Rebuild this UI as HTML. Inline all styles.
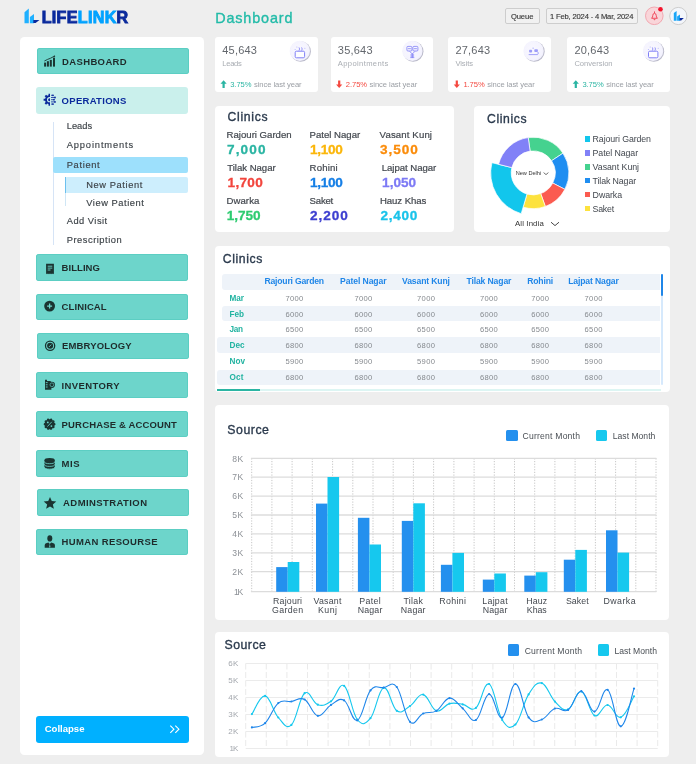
<!DOCTYPE html>
<html lang="en"><head><meta charset="utf-8"><title>Dashboard</title>
<style>
html,body{margin:0;padding:0}
body{width:696px;height:764px;position:relative;overflow:hidden;background:#eeeeee;font-family:"Liberation Sans",sans-serif}
.t{position:absolute;line-height:1;white-space:nowrap}
.a{position:absolute}
.card{position:absolute;background:#fff;border-radius:4px}
.btn{position:absolute;background:#6dd5cb;border-radius:3px;box-shadow:inset 0 0 0 0.8px rgba(84,202,190,0.85)}
svg{position:absolute;overflow:visible}
</style></head><body>
<svg style="left:0;top:0" width="140" height="30" viewBox="0 0 140 30">
<polygon points="24.5,12.2 28.8,8.6 28.8,23.3 24.5,23.3" fill="#1fb0ff"/>
<polygon points="29.9,16.9 34,14 34,23.3 29.9,23.3" fill="#1fb0ff"/>
<polygon points="33.3,20.1 39.5,20.1 35.6,23.1 33.3,23.1" fill="#0b2a9c"/>
</svg>
<span class="t" style="left:41.70px;top:9.00px;font-size:16.10px;color:#0b2a9c;font-weight:700;letter-spacing:0.307px;-webkit-text-stroke:0.9px currentColor;">LIFE<span style="color:#00a2ff">LINK</span>R</span>
<span class="t" style="left:215.20px;top:11.00px;font-size:14.40px;color:#22bba8;font-weight:400;letter-spacing:0.862px;-webkit-text-stroke:0.35px currentColor;">Dashboard</span>
<div class="a" style="left:504.5px;top:8.2px;width:35.3px;height:15.6px;border:1px solid #cdcdcd;border-radius:2px;background:#f1f1f1;box-sizing:border-box"></div>
<span class="t" style="left:510.90px;top:13.00px;font-size:7.60px;color:#3a3a3a;font-weight:400;letter-spacing:-0.078px;-webkit-text-stroke:0.15px currentColor;">Queue</span>
<div class="a" style="left:546.2px;top:8.2px;width:91.5px;height:15.6px;border:1px solid #cdcdcd;border-radius:2px;background:#f1f1f1;box-sizing:border-box"></div>
<span class="t" style="left:550.00px;top:13.00px;font-size:7.60px;color:#3a3a3a;font-weight:400;letter-spacing:-0.166px;-webkit-text-stroke:0.15px currentColor;">1 Feb, 2024 - 4 Mar, 2024</span>
<svg style="left:640px;top:2px" width="52" height="28" viewBox="640 2 52 28">
<circle cx="654.3" cy="15.8" r="8.8" fill="#f9d5d9" stroke="#f0a0aa" stroke-width="0.9"/>
<path d="M651.9 18 q0.9 -0.9 0.9 -2.6 a1.7 2 0 0 1 3.4 0 q0 1.7 0.9 2.6z M653.7 19.3 a0.9 0.7 0 0 0 1.6 0 M654.5 12.6 v-0.8" fill="none" stroke="#ee3146" stroke-width="0.85" stroke-linejoin="round" stroke-linecap="round"/>
<circle cx="660.5" cy="9.3" r="2.3" fill="#f3132c"/>
<circle cx="678.3" cy="16" r="8.6" fill="#f3f6fb" stroke="#c8c8c8" stroke-width="0.9"/>
<polygon points="673.8,12.9 676.6,11 676.6,20.7 673.8,20.7" fill="#1aa6f7"/>
<polygon points="677.1,16.4 680,14.5 680,20.7 677.1,20.7" fill="#1aa6f7"/>
<polygon points="679.6,18 683.8,18 681.2,20.6 679.6,20.6" fill="#0b2a9c"/>
</svg>
<div class="card" style="left:20.3px;top:37px;width:183.9px;height:718.4px;border-radius:4.5px"></div>
<div class="btn" style="left:36.7px;top:48.0px;width:152.2px;height:26.4px;"></div>
<span class="t" style="left:62.00px;top:57.00px;font-size:9.50px;color:#1e2b2b;font-weight:700;letter-spacing:0.369px;">DASHBOARD</span>
<div class="btn" style="left:36.1px;top:87.2px;width:152.2px;height:26.4px;background:#caf0ec;box-shadow:none;"></div>
<span class="t" style="left:61.60px;top:96.00px;font-size:9.50px;color:#0b2a9c;font-weight:700;letter-spacing:0.288px;">OPERATIONS</span>
<div class="btn" style="left:36.1px;top:254.3px;width:152.2px;height:26.4px;"></div>
<span class="t" style="left:61.60px;top:263.00px;font-size:9.50px;color:#1e2b2b;font-weight:700;letter-spacing:0.050px;">BILLING</span>
<div class="btn" style="left:36.1px;top:293.5px;width:152.2px;height:26.4px;"></div>
<span class="t" style="left:61.60px;top:302.00px;font-size:9.50px;color:#1e2b2b;font-weight:700;letter-spacing:0.096px;">CLINICAL</span>
<div class="btn" style="left:36.9px;top:332.8px;width:152.2px;height:26.4px;"></div>
<span class="t" style="left:61.90px;top:341.00px;font-size:9.50px;color:#1e2b2b;font-weight:700;letter-spacing:0.159px;">EMBRYOLOGY</span>
<div class="btn" style="left:36.1px;top:371.9px;width:152.2px;height:26.4px;"></div>
<span class="t" style="left:61.60px;top:381.00px;font-size:9.50px;color:#1e2b2b;font-weight:700;letter-spacing:0.387px;">INVENTORY</span>
<div class="btn" style="left:36.1px;top:411.1px;width:152.2px;height:26.4px;"></div>
<span class="t" style="left:61.60px;top:420.00px;font-size:9.50px;color:#1e2b2b;font-weight:700;letter-spacing:0.158px;">PURCHASE & ACCOUNT</span>
<div class="btn" style="left:36.1px;top:450.3px;width:152.2px;height:26.4px;"></div>
<span class="t" style="left:61.60px;top:459.00px;font-size:9.50px;color:#1e2b2b;font-weight:700;letter-spacing:0.555px;">MIS</span>
<div class="btn" style="left:36.9px;top:489.4px;width:152.2px;height:26.4px;"></div>
<span class="t" style="left:63.10px;top:498.00px;font-size:9.50px;color:#1e2b2b;font-weight:700;letter-spacing:0.410px;">ADMINSTRATION</span>
<div class="btn" style="left:36.1px;top:528.5px;width:152.2px;height:26.4px;"></div>
<span class="t" style="left:61.60px;top:537.00px;font-size:9.50px;color:#1e2b2b;font-weight:700;letter-spacing:0.361px;">HUMAN RESOURSE</span>
<svg style="left:0;top:0" width="210" height="764" viewBox="0 0 210 764"><rect x="44.1" y="62.6" width="2" height="4.0" fill="#1a3431"/><rect x="46.9" y="61.2" width="2" height="5.4" fill="#1a3431"/><rect x="49.8" y="59.9" width="2" height="6.7" fill="#1a3431"/><rect x="53.0" y="57.6" width="2" height="9.0" fill="#1a3431"/><path d="M44.4 61 L47.6 59.4 L50.6 58.2 L54.3 56.2" fill="none" stroke="#1a3431" stroke-width="0.9"/><circle cx="54.4" cy="56.2" r="0.8" fill="#1a3431"/><clipPath id="lh"><rect x="42" y="92" width="7.9" height="16"/></clipPath><g clip-path="url(#lh)"><polygon points="55.61,98.65 55.61,100.75 54.07,100.77 53.52,102.10 54.59,103.21 53.11,104.69 52.00,103.62 50.67,104.17 50.65,105.71 48.55,105.71 48.53,104.17 47.20,103.62 46.09,104.69 44.61,103.21 45.68,102.10 45.13,100.77 43.59,100.75 43.59,98.65 45.13,98.63 45.68,97.30 44.61,96.19 46.09,94.71 47.20,95.78 48.53,95.23 48.55,93.69 50.65,93.69 50.67,95.23 52.00,95.78 53.11,94.71 54.59,96.19 53.52,97.30 54.07,98.63" fill="#0b2a9c"/><circle cx="49.6" cy="99.7" r="2.6" fill="#caf0ec"/><circle cx="49.6" cy="99.7" r="1.5" fill="#0b2a9c"/></g><line x1="51" y1="95.3" x2="53.0" y2="95.3" stroke="#0b2a9c" stroke-width="0.8"/><circle cx="53.0" cy="95.3" r="0.9" fill="#0b2a9c"/><line x1="51" y1="97.5" x2="55.0" y2="97.5" stroke="#0b2a9c" stroke-width="0.8"/><circle cx="55.0" cy="97.5" r="0.9" fill="#0b2a9c"/><line x1="51" y1="99.7" x2="54.0" y2="99.7" stroke="#0b2a9c" stroke-width="0.8"/><circle cx="54.0" cy="99.7" r="0.9" fill="#0b2a9c"/><line x1="51" y1="101.9" x2="55.0" y2="101.9" stroke="#0b2a9c" stroke-width="0.8"/><circle cx="55.0" cy="101.9" r="0.9" fill="#0b2a9c"/><line x1="51" y1="104.1" x2="53.0" y2="104.1" stroke="#0b2a9c" stroke-width="0.8"/><circle cx="53.0" cy="104.1" r="0.9" fill="#0b2a9c"/><path d="M46.1 263.8 h7.8 v10.4 l-0.98 -0.7 l-0.97 0.7 l-0.98 -0.7 l-0.97 0.7 l-0.98 -0.7 l-0.97 0.7 l-0.98 -0.7 l-0.97 0.7z" fill="#1a3431"/><path d="M47.7 266.2 h4.6 M47.7 268.1 h4.6 M47.7 270 h2.8" stroke="#6dd5cb" stroke-width="0.9"/><circle cx="49.6" cy="306.1" r="5.4" fill="#1a3431"/><path d="M49.6 303.6 v5 M47.1 306.1 h5" stroke="#6dd5cb" stroke-width="1.3"/><circle cx="50.1" cy="345.8" r="4.6" fill="none" stroke="#1a3431" stroke-width="1.3"/><circle cx="50.1" cy="345.8" r="3" fill="#1a3431"/><path d="M48.9 347 l2.4 -2.4" stroke="#6dd5cb" stroke-width="0.8"/><path d="M45 379.8 h2 v1.2 h3.2 l1.2 1 v7.8 h-6.4z" fill="#1a3431"/><circle cx="51.9" cy="384.8" r="3.1" fill="#1a3431"/><circle cx="51.9" cy="384.8" r="1.9" fill="none" stroke="#6dd5cb" stroke-width="0.6"/><path d="M45.8 382.6 h1.8 M45.8 384.8 h1.8 M45.8 387 h1.8" stroke="#6dd5cb" stroke-width="0.9"/><polygon points="55.52,424.20 55.42,424.66 55.12,425.07 54.68,425.42 54.17,425.68 54.43,426.20 54.58,426.74 54.57,427.25 54.39,427.68 54.04,427.99 53.55,428.15 53.00,428.18 52.42,428.08 52.33,428.66 52.14,429.18 51.83,429.59 51.43,429.83 50.96,429.87 50.47,429.72 50.01,429.41 49.60,429.00 49.19,429.41 48.73,429.72 48.24,429.87 47.77,429.83 47.37,429.59 47.06,429.18 46.87,428.66 46.78,428.08 46.20,428.18 45.65,428.15 45.16,427.99 44.81,427.68 44.63,427.25 44.62,426.74 44.77,426.20 45.03,425.68 44.52,425.42 44.08,425.07 43.78,424.66 43.68,424.20 43.78,423.74 44.08,423.33 44.52,422.98 45.03,422.72 44.77,422.20 44.62,421.66 44.63,421.15 44.81,420.72 45.16,420.41 45.65,420.25 46.20,420.22 46.78,420.32 46.87,419.74 47.06,419.22 47.37,418.81 47.77,418.57 48.24,418.53 48.73,418.68 49.19,418.99 49.60,419.40 50.01,418.99 50.47,418.68 50.96,418.53 51.43,418.57 51.83,418.81 52.14,419.22 52.33,419.74 52.42,420.32 53.00,420.22 53.55,420.25 54.04,420.41 54.39,420.72 54.57,421.15 54.58,421.66 54.43,422.20 54.17,422.72 54.68,422.98 55.12,423.33 55.42,423.74" fill="#1a3431"/><path d="M47.4 426.6 l4.4 -4.8" stroke="#6dd5cb" stroke-width="0.8"/><circle cx="47.8" cy="422.4" r="0.9" fill="#6dd5cb"/><circle cx="51.4" cy="426.1" r="0.9" fill="#6dd5cb"/><path d="M44.4 460.2 a5.2 2.1 0 0 1 10.4 0 v6.9 a5.2 2.1 0 0 1 -10.4 0z" fill="#1a3431"/><path d="M44.4 461.6 a5.2 2.1 0 0 0 10.4 0 M44.4 464.3 a5.2 2.1 0 0 0 10.4 0 M44.4 467 a5.2 2.1 0 0 0 10.4 0" fill="none" stroke="#6dd5cb" stroke-width="0.8"/><polygon points="50.00,496.90 51.76,501.07 56.28,501.46 52.85,504.43 53.88,508.84 50.00,506.50 46.12,508.84 47.15,504.43 43.72,501.46 48.24,501.07" fill="#1a3431"/><ellipse cx="49.8" cy="538.4" rx="2.5" ry="3.1" fill="#1a3431"/><path d="M44.7 547.7 v-2.6 q0 -1.6 2 -2.1 l1.8 -0.6 l1.3 1.6 l1.3 -1.6 l1.8 0.6 q2 0.5 2 2.1 v2.6z" fill="#1a3431"/><path d="M49.8 543.6 l0.6 3.4 l-0.6 0.7 l-0.6 -0.7z" fill="#6dd5cb"/></svg>
<div class="a" style="left:53.4px;top:121.7px;width:1px;height:123px;background:#d6e4f6"></div>
<div class="a" style="left:53.2px;top:156.7px;width:134.9px;height:16.6px;background:#9de0fc;border-radius:2px"></div>
<div class="a" style="left:65.2px;top:177px;width:122.9px;height:16px;background:#cdeefd;border-radius:2px"></div>
<div class="a" style="left:65.2px;top:177px;width:1.2px;height:16px;background:#6cc0ee"></div>
<div class="a" style="left:65.2px;top:193px;width:1px;height:12.6px;background:#cfe6f5"></div>
<span class="t" style="left:66.70px;top:122.00px;font-size:9.30px;color:#3d4348;font-weight:400;letter-spacing:0.039px;-webkit-text-stroke:0.15px currentColor;">Leads</span>
<span class="t" style="left:66.70px;top:141.00px;font-size:9.30px;color:#3d4348;font-weight:400;letter-spacing:0.876px;-webkit-text-stroke:0.15px currentColor;">Appointments</span>
<span class="t" style="left:66.70px;top:161.00px;font-size:9.30px;color:#3d4348;font-weight:400;letter-spacing:0.674px;-webkit-text-stroke:0.15px currentColor;">Patient</span>
<span class="t" style="left:86.30px;top:181.00px;font-size:9.30px;color:#3d4348;font-weight:400;letter-spacing:0.586px;-webkit-text-stroke:0.15px currentColor;">New Patient</span>
<span class="t" style="left:86.30px;top:199.00px;font-size:9.30px;color:#3d4348;font-weight:400;letter-spacing:0.544px;-webkit-text-stroke:0.15px currentColor;">View Patient</span>
<span class="t" style="left:66.70px;top:217.00px;font-size:9.30px;color:#3d4348;font-weight:400;letter-spacing:0.496px;-webkit-text-stroke:0.15px currentColor;">Add Visit</span>
<span class="t" style="left:66.70px;top:236.00px;font-size:9.30px;color:#3d4348;font-weight:400;letter-spacing:0.537px;-webkit-text-stroke:0.15px currentColor;">Prescription</span>
<div class="a" style="left:36.3px;top:715.9px;width:152.3px;height:26.9px;background:#00b0ff;border-radius:3px"></div>
<span class="t" style="left:44.70px;top:724.00px;font-size:9.60px;color:#fff;font-weight:700;letter-spacing:-0.029px;">Collapse</span>
<svg style="left:168px;top:722px" width="14" height="14" viewBox="168 722 14 14"><path d="M170.3 725.6 l3.6 3.6 l-3.6 3.6 M175.3 725.6 l3.6 3.6 l-3.6 3.6" fill="none" stroke="#fff" stroke-width="1.1"/></svg>
<svg style="left:0;top:0" width="0" height="0"><defs><filter id="blr" x="-20%" y="-20%" width="140%" height="140%"><feGaussianBlur stdDeviation="0.6"/></filter><radialGradient id="icg" cx="0.45" cy="0.45" r="0.6"><stop offset="0" stop-color="#f9f8ff"/><stop offset="0.8" stop-color="#f4f3fe"/><stop offset="1" stop-color="#ecebf9"/></radialGradient></defs></svg>
<div class="card" style="left:215.0px;top:37px;width:102.7px;height:55px;border-radius:3px"></div>
<span class="t" style="left:222.20px;top:45.00px;font-size:11.00px;color:#63676d;font-weight:400;letter-spacing:0.229px;">45,643</span>
<span class="t" style="left:222.20px;top:60.00px;font-size:7.60px;color:#a9adb3;font-weight:400;letter-spacing:-0.251px;">Leads</span>
<svg style="left:0;top:0" width="696" height="100" viewBox="0 0 696 100"><path d="M223.6 80.3 l3.1 3.5 h-2 v4.1 h-2.2 v-4.1 h-2z" fill="#2bb5a3"/></svg>
<span class="t" style="left:230.20px;top:81.00px;font-size:7.60px;color:#2bb5a3;font-weight:400;letter-spacing:-0.062px;">3.75%</span>
<span class="t" style="left:254.00px;top:81.00px;font-size:7.60px;color:#9a9ea4;font-weight:400;letter-spacing:-0.068px;">since last year</span>
<svg style="left:0;top:0" width="696" height="100" viewBox="0 0 696 100"><circle cx="300.6" cy="51.5" r="10.3" fill="#b9b9c9" filter="url(#blr)"/><circle cx="299.8" cy="50.9" r="10.2" fill="url(#icg)"/><rect x="295.2" y="51.2" width="9.4" height="6.6" rx="1.3" fill="#fdfdff" stroke="#7f7ff6" stroke-width="1"/><path d="M299.0 50.6 q1.2 -1.6 0 -3.2 M301.6 50.6 q1.2 -1.6 0 -3.2" fill="none" stroke="#7f7ff6" stroke-width="0.8"/><circle cx="295.1" cy="49.4" r="0.5" fill="#7f7ff6" opacity="0.6"/><circle cx="296.9" cy="47.0" r="0.5" fill="#7f7ff6" opacity="0.6"/><circle cx="304.9" cy="48.2" r="0.5" fill="#7f7ff6" opacity="0.6"/></svg>
<div class="card" style="left:330.6px;top:37px;width:102.7px;height:55px;border-radius:3px"></div>
<span class="t" style="left:337.80px;top:45.00px;font-size:11.00px;color:#63676d;font-weight:400;letter-spacing:0.229px;">35,643</span>
<span class="t" style="left:337.80px;top:60.00px;font-size:7.60px;color:#a9adb3;font-weight:400;letter-spacing:0.369px;">Appointments</span>
<svg style="left:0;top:0" width="696" height="100" viewBox="0 0 696 100"><path d="M339.2 88 l3.1 -3.5 h-2 v-4.1 h-2.2 v4.1 h-2z" fill="#f4483f"/></svg>
<span class="t" style="left:345.80px;top:81.00px;font-size:7.60px;color:#f4483f;font-weight:400;letter-spacing:-0.062px;">2.75%</span>
<span class="t" style="left:369.60px;top:81.00px;font-size:7.60px;color:#9a9ea4;font-weight:400;letter-spacing:-0.068px;">since last year</span>
<svg style="left:0;top:0" width="696" height="100" viewBox="0 0 696 100"><circle cx="413.2" cy="51.5" r="10.3" fill="#b9b9c9" filter="url(#blr)"/><circle cx="412.4" cy="50.9" r="10.2" fill="url(#icg)"/><rect x="406.9" y="46.4" width="5" height="4.6" rx="1" fill="none" stroke="#7f7ff6" stroke-width="0.8"/><rect x="412.9" y="46.4" width="5" height="4.6" rx="1" fill="none" stroke="#7f7ff6" stroke-width="0.8"/><path d="M407.9 48.7 h3 M413.9 48.7 h3 M409.7 51.4 l2.6 2.6 l2.6 -2.6 M412.3 53.6 v4.4 M410.3 57.6 h4" fill="none" stroke="#7f7ff6" stroke-width="0.8"/><rect x="410.5" y="54.0" width="3.6" height="3" fill="#7f7ff6" opacity="0.55"/></svg>
<div class="card" style="left:448.2px;top:37px;width:102.7px;height:55px;border-radius:3px"></div>
<span class="t" style="left:455.40px;top:45.00px;font-size:11.00px;color:#63676d;font-weight:400;letter-spacing:0.229px;">27,643</span>
<span class="t" style="left:455.40px;top:60.00px;font-size:7.60px;color:#a9adb3;font-weight:400;letter-spacing:-0.083px;">Visits</span>
<svg style="left:0;top:0" width="696" height="100" viewBox="0 0 696 100"><path d="M456.8 88 l3.1 -3.5 h-2 v-4.1 h-2.2 v4.1 h-2z" fill="#f4483f"/></svg>
<span class="t" style="left:463.40px;top:81.00px;font-size:7.60px;color:#f4483f;font-weight:400;letter-spacing:-0.062px;">1.75%</span>
<span class="t" style="left:487.20px;top:81.00px;font-size:7.60px;color:#9a9ea4;font-weight:400;letter-spacing:-0.068px;">since last year</span>
<svg style="left:0;top:0" width="696" height="100" viewBox="0 0 696 100"><circle cx="534.4" cy="51.5" r="10.3" fill="#b9b9c9" filter="url(#blr)"/><circle cx="533.6" cy="50.9" r="10.2" fill="url(#icg)"/><rect x="529.1" y="49.8" width="3" height="2.8" rx="0.8" fill="#7f7ff6" opacity="0.75"/><rect x="534.3" y="49.2" width="3.6" height="2.8" rx="0.8" fill="#7f7ff6" opacity="0.75"/><circle cx="533.1" cy="48.2" r="0.6" fill="#7f7ff6" opacity="0.7"/><path d="M528.7 54.6 h9 M537.7 52.0 q1.4 0.8 0 2.4" fill="none" stroke="#7f7ff6" stroke-width="1" opacity="0.7"/></svg>
<div class="card" style="left:567.2px;top:37px;width:102.7px;height:55px;border-radius:3px"></div>
<span class="t" style="left:574.40px;top:45.00px;font-size:11.00px;color:#63676d;font-weight:400;letter-spacing:0.229px;">20,643</span>
<span class="t" style="left:574.40px;top:60.00px;font-size:7.60px;color:#a9adb3;font-weight:400;letter-spacing:-0.025px;">Conversion</span>
<svg style="left:0;top:0" width="696" height="100" viewBox="0 0 696 100"><path d="M575.8 80.3 l3.1 3.5 h-2 v4.1 h-2.2 v-4.1 h-2z" fill="#2bb5a3"/></svg>
<span class="t" style="left:582.40px;top:81.00px;font-size:7.60px;color:#2bb5a3;font-weight:400;letter-spacing:-0.062px;">3.75%</span>
<span class="t" style="left:606.20px;top:81.00px;font-size:7.60px;color:#9a9ea4;font-weight:400;letter-spacing:-0.068px;">since last year</span>
<svg style="left:0;top:0" width="696" height="100" viewBox="0 0 696 100"><circle cx="653.9" cy="51.5" r="10.3" fill="#b9b9c9" filter="url(#blr)"/><circle cx="653.1" cy="50.9" r="10.2" fill="url(#icg)"/><rect x="648.5" y="51.2" width="9.4" height="6.6" rx="1.3" fill="#fdfdff" stroke="#7f7ff6" stroke-width="1"/><path d="M652.3 50.6 q1.2 -1.6 0 -3.2 M654.9 50.6 q1.2 -1.6 0 -3.2" fill="none" stroke="#7f7ff6" stroke-width="0.8"/><circle cx="648.4" cy="49.4" r="0.5" fill="#7f7ff6" opacity="0.6"/><circle cx="650.2" cy="47.0" r="0.5" fill="#7f7ff6" opacity="0.6"/><circle cx="658.2" cy="48.2" r="0.5" fill="#7f7ff6" opacity="0.6"/></svg>
<div class="card" style="left:215px;top:106px;width:239px;height:126px"></div>
<span class="t" style="left:227.50px;top:111.00px;font-size:12.20px;color:#2b3a4d;font-weight:400;letter-spacing:0.685px;-webkit-text-stroke:0.35px currentColor;">Clinics</span>
<span class="t" style="left:226.60px;top:130.00px;font-size:9.60px;color:#43484f;font-weight:400;letter-spacing:-0.005px;-webkit-text-stroke:0.2px currentColor;">Rajouri Garden</span>
<span class="t" style="left:227.00px;top:143.00px;font-size:13.60px;color:#2bb5a3;font-weight:700;letter-spacing:1.142px;-webkit-text-stroke:0.3px currentColor;">7,000</span>
<span class="t" style="left:309.60px;top:130.00px;font-size:9.60px;color:#43484f;font-weight:400;letter-spacing:-0.007px;-webkit-text-stroke:0.2px currentColor;">Patel Nagar</span>
<span class="t" style="left:310.00px;top:143.00px;font-size:13.60px;color:#fbb60a;font-weight:700;letter-spacing:-0.333px;-webkit-text-stroke:0.3px currentColor;">1,100</span>
<span class="t" style="left:379.60px;top:130.00px;font-size:9.60px;color:#43484f;font-weight:400;letter-spacing:0.137px;-webkit-text-stroke:0.2px currentColor;">Vasant Kunj</span>
<span class="t" style="left:380.00px;top:143.00px;font-size:13.60px;color:#fb8c0a;font-weight:700;letter-spacing:0.917px;-webkit-text-stroke:0.3px currentColor;">3,500</span>
<span class="t" style="left:227.20px;top:163.00px;font-size:9.60px;color:#43484f;font-weight:400;letter-spacing:-0.020px;-webkit-text-stroke:0.2px currentColor;">Tilak Nagar</span>
<span class="t" style="left:227.60px;top:176.00px;font-size:13.60px;color:#f2453d;font-weight:700;letter-spacing:0.292px;-webkit-text-stroke:0.3px currentColor;">1,700</span>
<span class="t" style="left:309.60px;top:163.00px;font-size:9.60px;color:#43484f;font-weight:400;letter-spacing:0.159px;-webkit-text-stroke:0.2px currentColor;">Rohini</span>
<span class="t" style="left:310.00px;top:176.00px;font-size:13.60px;color:#167fe6;font-weight:700;letter-spacing:-0.333px;-webkit-text-stroke:0.3px currentColor;">1,100</span>
<span class="t" style="left:381.70px;top:163.00px;font-size:9.60px;color:#43484f;font-weight:400;letter-spacing:-0.031px;-webkit-text-stroke:0.2px currentColor;">Lajpat Nagar</span>
<span class="t" style="left:382.10px;top:176.00px;font-size:13.60px;color:#7d7af5;font-weight:700;letter-spacing:0.017px;-webkit-text-stroke:0.3px currentColor;">1,050</span>
<span class="t" style="left:226.40px;top:196.00px;font-size:9.60px;color:#43484f;font-weight:400;letter-spacing:0.094px;-webkit-text-stroke:0.2px currentColor;">Dwarka</span>
<span class="t" style="left:226.80px;top:209.00px;font-size:13.60px;color:#2fcc71;font-weight:700;letter-spacing:-0.058px;-webkit-text-stroke:0.3px currentColor;">1,750</span>
<span class="t" style="left:309.60px;top:196.00px;font-size:9.60px;color:#43484f;font-weight:400;letter-spacing:-0.212px;-webkit-text-stroke:0.2px currentColor;">Saket</span>
<span class="t" style="left:310.00px;top:209.00px;font-size:13.60px;color:#3d3fd0;font-weight:700;letter-spacing:0.917px;-webkit-text-stroke:0.3px currentColor;">2,200</span>
<span class="t" style="left:380.00px;top:196.00px;font-size:9.60px;color:#43484f;font-weight:400;letter-spacing:-0.080px;-webkit-text-stroke:0.2px currentColor;">Hauz Khas</span>
<span class="t" style="left:380.40px;top:209.00px;font-size:13.60px;color:#19c3ea;font-weight:700;letter-spacing:0.742px;-webkit-text-stroke:0.3px currentColor;">2,400</span>
<div class="card" style="left:473.8px;top:106px;width:196.5px;height:125.7px"></div>
<span class="t" style="left:487.00px;top:113.00px;font-size:12.20px;color:#2b3a4d;font-weight:400;letter-spacing:0.602px;-webkit-text-stroke:0.35px currentColor;">Clinics</span>
<svg style="left:0;top:0" width="696" height="240" viewBox="0 0 696 240"><path d="M528.23 137.55 A35.70 35.70 0 0 1 562.97 153.20 L551.55 160.76 A22.00 22.00 0 0 0 530.14 151.11 Z" fill="#45d28f" stroke="#fff" stroke-width="0.7"/><path d="M562.97 153.20 A35.70 35.70 0 0 1 564.90 189.33 L552.73 183.02 A22.00 22.00 0 0 0 551.55 160.76 Z" fill="#1f8ef1" stroke="#fff" stroke-width="0.7"/><path d="M564.90 189.33 A35.70 35.70 0 0 1 545.35 206.47 L540.69 193.59 A22.00 22.00 0 0 0 552.73 183.02 Z" fill="#fb5b50" stroke="#fff" stroke-width="0.7"/><path d="M545.35 206.47 A35.70 35.70 0 0 1 523.12 207.15 L526.99 194.00 A22.00 22.00 0 0 0 540.69 193.59 Z" fill="#fde23e" stroke="#fff" stroke-width="0.7"/><path d="M521.20 213.67 A42.50 42.50 0 0 1 491.94 162.69 L511.84 167.61 A22.00 22.00 0 0 0 526.99 194.00 Z" fill="#12c6ec" stroke="#fff" stroke-width="0.7"/><path d="M498.55 164.32 A35.70 35.70 0 0 1 528.23 137.55 L530.14 151.11 A22.00 22.00 0 0 0 511.84 167.61 Z" fill="#8181f7" stroke="#fff" stroke-width="0.7"/><path d="M543.6 172.6 l2.4 2 l2.4 -2" fill="none" stroke="#333" stroke-width="0.7"/><path d="M551 222.2 l4 3.4 l4 -3.4" fill="none" stroke="#333" stroke-width="0.9"/></svg>
<span class="t" style="left:515.80px;top:171.00px;font-size:5.60px;color:#333;font-weight:400;letter-spacing:-0.038px;">New Delhi</span>
<span class="t" style="left:515.00px;top:220.00px;font-size:7.80px;color:#333;font-weight:400;letter-spacing:0.131px;">All India</span>
<div class="a" style="left:584.5px;top:136.2px;width:5.6px;height:5.6px;background:#12c6ec"></div>
<span class="t" style="left:592.60px;top:135.00px;font-size:8.80px;color:#43484f;font-weight:400;letter-spacing:-0.097px;">Rajouri Garden</span>
<div class="a" style="left:584.5px;top:150.1px;width:5.6px;height:5.6px;background:#8181f7"></div>
<span class="t" style="left:592.60px;top:149.00px;font-size:8.80px;color:#43484f;font-weight:400;letter-spacing:-0.097px;">Patel Nagar</span>
<div class="a" style="left:584.5px;top:164.0px;width:5.6px;height:5.6px;background:#45d28f"></div>
<span class="t" style="left:592.60px;top:163.00px;font-size:8.80px;color:#43484f;font-weight:400;letter-spacing:-0.030px;">Vasant Kunj</span>
<div class="a" style="left:584.5px;top:177.9px;width:5.6px;height:5.6px;background:#1f8ef1"></div>
<span class="t" style="left:592.60px;top:177.00px;font-size:8.80px;color:#43484f;font-weight:400;letter-spacing:-0.116px;">Tilak Nagar</span>
<div class="a" style="left:584.5px;top:191.8px;width:5.6px;height:5.6px;background:#fb5b50"></div>
<span class="t" style="left:592.60px;top:191.00px;font-size:8.80px;color:#43484f;font-weight:400;letter-spacing:-0.066px;">Dwarka</span>
<div class="a" style="left:584.5px;top:205.7px;width:5.6px;height:5.6px;background:#fde23e"></div>
<span class="t" style="left:592.60px;top:205.00px;font-size:8.80px;color:#43484f;font-weight:400;letter-spacing:-0.250px;">Saket</span>
<div class="card" style="left:215px;top:245.7px;width:454.5px;height:146px"></div>
<span class="t" style="left:222.80px;top:253.00px;font-size:12.20px;color:#2b3a4d;font-weight:400;letter-spacing:0.618px;-webkit-text-stroke:0.35px currentColor;">Clinics</span>
<div class="a" style="left:222.4px;top:274.2px;width:438px;height:15.4px;background:#eef3f9;border-radius:3px 0 0 3px"></div>
<div class="a" style="left:222.4px;top:305.8px;width:438px;height:15.6px;background:#eef3f9;border-radius:3px 0 0 3px"></div>
<div class="a" style="left:217.2px;top:337.4px;width:443.2px;height:15.6px;background:#eef3f9;border-radius:3px 0 0 3px"></div>
<div class="a" style="left:217.2px;top:369.6px;width:443.2px;height:15.6px;background:#eef3f9;border-radius:3px 0 0 3px"></div>
<span class="t" style="left:294.30px;top:277.00px;font-size:8.60px;color:#1f86e8;font-weight:700;letter-spacing:-0.191px;transform:translateX(-50%);margin-left:-0.10px;">Rajouri Garden</span>
<span class="t" style="left:363.30px;top:277.00px;font-size:8.60px;color:#1f86e8;font-weight:700;letter-spacing:-0.080px;transform:translateX(-50%);margin-left:-0.04px;">Patel Nagar</span>
<span class="t" style="left:426.00px;top:277.00px;font-size:8.60px;color:#1f86e8;font-weight:700;letter-spacing:-0.119px;transform:translateX(-50%);margin-left:-0.06px;">Vasant Kunj</span>
<span class="t" style="left:488.90px;top:277.00px;font-size:8.60px;color:#1f86e8;font-weight:700;letter-spacing:-0.119px;transform:translateX(-50%);margin-left:-0.06px;">Tilak Nagar</span>
<span class="t" style="left:540.20px;top:277.00px;font-size:8.60px;color:#1f86e8;font-weight:700;letter-spacing:-0.147px;transform:translateX(-50%);margin-left:-0.07px;">Rohini</span>
<span class="t" style="left:593.50px;top:277.00px;font-size:8.60px;color:#1f86e8;font-weight:700;letter-spacing:-0.142px;transform:translateX(-50%);margin-left:-0.07px;">Lajpat Nagar</span>
<span class="t" style="left:229.50px;top:295.00px;font-size:8.20px;color:#22b3a1;font-weight:700;letter-spacing:-0.031px;">Mar</span>
<span class="t" style="left:294.30px;top:295.00px;font-size:7.60px;color:#85898e;font-weight:400;letter-spacing:0.298px;transform:translateX(-50%);margin-left:0.15px;">7000</span>
<span class="t" style="left:363.30px;top:295.00px;font-size:7.60px;color:#85898e;font-weight:400;letter-spacing:0.298px;transform:translateX(-50%);margin-left:0.15px;">7000</span>
<span class="t" style="left:426.00px;top:295.00px;font-size:7.60px;color:#85898e;font-weight:400;letter-spacing:0.298px;transform:translateX(-50%);margin-left:0.15px;">7000</span>
<span class="t" style="left:488.90px;top:295.00px;font-size:7.60px;color:#85898e;font-weight:400;letter-spacing:0.298px;transform:translateX(-50%);margin-left:0.15px;">7000</span>
<span class="t" style="left:540.20px;top:295.00px;font-size:7.60px;color:#85898e;font-weight:400;letter-spacing:0.298px;transform:translateX(-50%);margin-left:0.15px;">7000</span>
<span class="t" style="left:593.50px;top:295.00px;font-size:7.60px;color:#85898e;font-weight:400;letter-spacing:0.298px;transform:translateX(-50%);margin-left:0.15px;">7000</span>
<span class="t" style="left:229.50px;top:311.00px;font-size:8.20px;color:#22b3a1;font-weight:700;letter-spacing:-0.031px;">Feb</span>
<span class="t" style="left:294.30px;top:311.00px;font-size:7.60px;color:#85898e;font-weight:400;letter-spacing:0.298px;transform:translateX(-50%);margin-left:0.15px;">6000</span>
<span class="t" style="left:363.30px;top:311.00px;font-size:7.60px;color:#85898e;font-weight:400;letter-spacing:0.298px;transform:translateX(-50%);margin-left:0.15px;">6000</span>
<span class="t" style="left:426.00px;top:311.00px;font-size:7.60px;color:#85898e;font-weight:400;letter-spacing:0.298px;transform:translateX(-50%);margin-left:0.15px;">6000</span>
<span class="t" style="left:488.90px;top:311.00px;font-size:7.60px;color:#85898e;font-weight:400;letter-spacing:0.298px;transform:translateX(-50%);margin-left:0.15px;">6000</span>
<span class="t" style="left:540.20px;top:311.00px;font-size:7.60px;color:#85898e;font-weight:400;letter-spacing:0.298px;transform:translateX(-50%);margin-left:0.15px;">6000</span>
<span class="t" style="left:593.50px;top:311.00px;font-size:7.60px;color:#85898e;font-weight:400;letter-spacing:0.298px;transform:translateX(-50%);margin-left:0.15px;">6000</span>
<span class="t" style="left:229.50px;top:326.00px;font-size:8.20px;color:#22b3a1;font-weight:700;letter-spacing:-0.305px;">Jan</span>
<span class="t" style="left:294.30px;top:326.00px;font-size:7.60px;color:#85898e;font-weight:400;letter-spacing:0.298px;transform:translateX(-50%);margin-left:0.15px;">6500</span>
<span class="t" style="left:363.30px;top:326.00px;font-size:7.60px;color:#85898e;font-weight:400;letter-spacing:0.298px;transform:translateX(-50%);margin-left:0.15px;">6500</span>
<span class="t" style="left:426.00px;top:326.00px;font-size:7.60px;color:#85898e;font-weight:400;letter-spacing:0.298px;transform:translateX(-50%);margin-left:0.15px;">6500</span>
<span class="t" style="left:488.90px;top:326.00px;font-size:7.60px;color:#85898e;font-weight:400;letter-spacing:0.298px;transform:translateX(-50%);margin-left:0.15px;">6500</span>
<span class="t" style="left:540.20px;top:326.00px;font-size:7.60px;color:#85898e;font-weight:400;letter-spacing:0.298px;transform:translateX(-50%);margin-left:0.15px;">6500</span>
<span class="t" style="left:593.50px;top:326.00px;font-size:7.60px;color:#85898e;font-weight:400;letter-spacing:0.298px;transform:translateX(-50%);margin-left:0.15px;">6500</span>
<span class="t" style="left:229.50px;top:342.00px;font-size:8.20px;color:#22b3a1;font-weight:700;letter-spacing:-0.016px;">Dec</span>
<span class="t" style="left:294.30px;top:342.00px;font-size:7.60px;color:#85898e;font-weight:400;letter-spacing:0.298px;transform:translateX(-50%);margin-left:0.15px;">6800</span>
<span class="t" style="left:363.30px;top:342.00px;font-size:7.60px;color:#85898e;font-weight:400;letter-spacing:0.298px;transform:translateX(-50%);margin-left:0.15px;">6800</span>
<span class="t" style="left:426.00px;top:342.00px;font-size:7.60px;color:#85898e;font-weight:400;letter-spacing:0.298px;transform:translateX(-50%);margin-left:0.15px;">6800</span>
<span class="t" style="left:488.90px;top:342.00px;font-size:7.60px;color:#85898e;font-weight:400;letter-spacing:0.298px;transform:translateX(-50%);margin-left:0.15px;">6800</span>
<span class="t" style="left:540.20px;top:342.00px;font-size:7.60px;color:#85898e;font-weight:400;letter-spacing:0.298px;transform:translateX(-50%);margin-left:0.15px;">6800</span>
<span class="t" style="left:593.50px;top:342.00px;font-size:7.60px;color:#85898e;font-weight:400;letter-spacing:0.298px;transform:translateX(-50%);margin-left:0.15px;">6800</span>
<span class="t" style="left:229.50px;top:358.00px;font-size:8.20px;color:#22b3a1;font-weight:700;letter-spacing:0.016px;">Nov</span>
<span class="t" style="left:294.30px;top:358.00px;font-size:7.60px;color:#85898e;font-weight:400;letter-spacing:0.298px;transform:translateX(-50%);margin-left:0.15px;">5900</span>
<span class="t" style="left:363.30px;top:358.00px;font-size:7.60px;color:#85898e;font-weight:400;letter-spacing:0.298px;transform:translateX(-50%);margin-left:0.15px;">5900</span>
<span class="t" style="left:426.00px;top:358.00px;font-size:7.60px;color:#85898e;font-weight:400;letter-spacing:0.298px;transform:translateX(-50%);margin-left:0.15px;">5900</span>
<span class="t" style="left:488.90px;top:358.00px;font-size:7.60px;color:#85898e;font-weight:400;letter-spacing:0.298px;transform:translateX(-50%);margin-left:0.15px;">5900</span>
<span class="t" style="left:540.20px;top:358.00px;font-size:7.60px;color:#85898e;font-weight:400;letter-spacing:0.298px;transform:translateX(-50%);margin-left:0.15px;">5900</span>
<span class="t" style="left:593.50px;top:358.00px;font-size:7.60px;color:#85898e;font-weight:400;letter-spacing:0.298px;transform:translateX(-50%);margin-left:0.15px;">5900</span>
<span class="t" style="left:229.50px;top:374.00px;font-size:8.20px;color:#22b3a1;font-weight:700;letter-spacing:0.172px;">Oct</span>
<span class="t" style="left:294.30px;top:374.00px;font-size:7.60px;color:#85898e;font-weight:400;letter-spacing:0.298px;transform:translateX(-50%);margin-left:0.15px;">6800</span>
<span class="t" style="left:363.30px;top:374.00px;font-size:7.60px;color:#85898e;font-weight:400;letter-spacing:0.298px;transform:translateX(-50%);margin-left:0.15px;">6800</span>
<span class="t" style="left:426.00px;top:374.00px;font-size:7.60px;color:#85898e;font-weight:400;letter-spacing:0.298px;transform:translateX(-50%);margin-left:0.15px;">6800</span>
<span class="t" style="left:488.90px;top:374.00px;font-size:7.60px;color:#85898e;font-weight:400;letter-spacing:0.298px;transform:translateX(-50%);margin-left:0.15px;">6800</span>
<span class="t" style="left:540.20px;top:374.00px;font-size:7.60px;color:#85898e;font-weight:400;letter-spacing:0.298px;transform:translateX(-50%);margin-left:0.15px;">6800</span>
<span class="t" style="left:593.50px;top:374.00px;font-size:7.60px;color:#85898e;font-weight:400;letter-spacing:0.298px;transform:translateX(-50%);margin-left:0.15px;">6800</span>
<div class="a" style="left:217px;top:388.6px;width:443.5px;height:2.6px;background:#dcf5f3"></div>
<div class="a" style="left:217px;top:388.6px;width:43.2px;height:2.6px;background:#2bb5a3"></div>
<div class="a" style="left:661px;top:273.8px;width:2.4px;height:111.4px;background:#d6e9fc;border-radius:1px"></div>
<div class="a" style="left:661px;top:273.8px;width:2.4px;height:22px;background:#1f86e8;border-radius:1px"></div>
<div class="card" style="left:215.3px;top:405.3px;width:454.2px;height:215.2px"></div>
<span class="t" style="left:227.30px;top:424.00px;font-size:12.30px;color:#2b3a4d;font-weight:400;letter-spacing:0.526px;-webkit-text-stroke:0.35px currentColor;">Source</span>
<div class="a" style="left:506.4px;top:429.7px;width:11.2px;height:11.2px;background:#2490ee;border-radius:1.5px"></div>
<span class="t" style="left:522.60px;top:432.00px;font-size:8.60px;color:#4a4f55;font-weight:400;letter-spacing:0.205px;">Current Month</span>
<div class="a" style="left:596.3px;top:429.7px;width:11.2px;height:11.2px;background:#16c8ee;border-radius:1.5px"></div>
<span class="t" style="left:612.80px;top:432.00px;font-size:8.60px;color:#4a4f55;font-weight:400;letter-spacing:-0.002px;">Last Month</span>
<svg style="left:0;top:0" width="696" height="764" viewBox="0 0 696 764"><line x1="251.7" y1="458.3" x2="251.7" y2="591.8" stroke="#b8b8b8" stroke-width="0.8" stroke-dasharray="1.2 1.5"/><line x1="271.9" y1="458.3" x2="271.9" y2="591.8" stroke="#b8b8b8" stroke-width="0.8" stroke-dasharray="1.2 1.5"/><line x1="292.1" y1="458.3" x2="292.1" y2="591.8" stroke="#b8b8b8" stroke-width="0.8" stroke-dasharray="1.2 1.5"/><line x1="312.3" y1="458.3" x2="312.3" y2="591.8" stroke="#b8b8b8" stroke-width="0.8" stroke-dasharray="1.2 1.5"/><line x1="332.6" y1="458.3" x2="332.6" y2="591.8" stroke="#b8b8b8" stroke-width="0.8" stroke-dasharray="1.2 1.5"/><line x1="352.8" y1="458.3" x2="352.8" y2="591.8" stroke="#b8b8b8" stroke-width="0.8" stroke-dasharray="1.2 1.5"/><line x1="373.0" y1="458.3" x2="373.0" y2="591.8" stroke="#b8b8b8" stroke-width="0.8" stroke-dasharray="1.2 1.5"/><line x1="393.2" y1="458.3" x2="393.2" y2="591.8" stroke="#b8b8b8" stroke-width="0.8" stroke-dasharray="1.2 1.5"/><line x1="413.4" y1="458.3" x2="413.4" y2="591.8" stroke="#b8b8b8" stroke-width="0.8" stroke-dasharray="1.2 1.5"/><line x1="433.6" y1="458.3" x2="433.6" y2="591.8" stroke="#b8b8b8" stroke-width="0.8" stroke-dasharray="1.2 1.5"/><line x1="453.9" y1="458.3" x2="453.9" y2="591.8" stroke="#b8b8b8" stroke-width="0.8" stroke-dasharray="1.2 1.5"/><line x1="474.1" y1="458.3" x2="474.1" y2="591.8" stroke="#b8b8b8" stroke-width="0.8" stroke-dasharray="1.2 1.5"/><line x1="494.3" y1="458.3" x2="494.3" y2="591.8" stroke="#b8b8b8" stroke-width="0.8" stroke-dasharray="1.2 1.5"/><line x1="514.5" y1="458.3" x2="514.5" y2="591.8" stroke="#b8b8b8" stroke-width="0.8" stroke-dasharray="1.2 1.5"/><line x1="534.7" y1="458.3" x2="534.7" y2="591.8" stroke="#b8b8b8" stroke-width="0.8" stroke-dasharray="1.2 1.5"/><line x1="554.9" y1="458.3" x2="554.9" y2="591.8" stroke="#b8b8b8" stroke-width="0.8" stroke-dasharray="1.2 1.5"/><line x1="575.1" y1="458.3" x2="575.1" y2="591.8" stroke="#b8b8b8" stroke-width="0.8" stroke-dasharray="1.2 1.5"/><line x1="595.4" y1="458.3" x2="595.4" y2="591.8" stroke="#b8b8b8" stroke-width="0.8" stroke-dasharray="1.2 1.5"/><line x1="615.6" y1="458.3" x2="615.6" y2="591.8" stroke="#b8b8b8" stroke-width="0.8" stroke-dasharray="1.2 1.5"/><line x1="635.8" y1="458.3" x2="635.8" y2="591.8" stroke="#b8b8b8" stroke-width="0.8" stroke-dasharray="1.2 1.5"/><line x1="656.0" y1="458.3" x2="656.0" y2="591.8" stroke="#b8b8b8" stroke-width="0.8" stroke-dasharray="1.2 1.5"/><line x1="250.9" y1="458.3" x2="656.4" y2="458.3" stroke="#dcdcdc" stroke-width="1.3"/><line x1="250.9" y1="477.2" x2="656.4" y2="477.2" stroke="#dcdcdc" stroke-width="1.3"/><line x1="250.9" y1="496.1" x2="656.4" y2="496.1" stroke="#dcdcdc" stroke-width="1.3"/><line x1="250.9" y1="515.0" x2="656.4" y2="515.0" stroke="#dcdcdc" stroke-width="1.3"/><line x1="250.9" y1="533.9" x2="656.4" y2="533.9" stroke="#dcdcdc" stroke-width="1.3"/><line x1="250.9" y1="552.8" x2="656.4" y2="552.8" stroke="#dcdcdc" stroke-width="1.3"/><line x1="250.9" y1="571.7" x2="656.4" y2="571.7" stroke="#dcdcdc" stroke-width="1.3"/><line x1="250.9" y1="591.7" x2="656.4" y2="591.7" stroke="#dcdcdc" stroke-width="1.3"/><rect x="276.2" y="567.1" width="11.5" height="24.7" fill="#2490ee"/><rect x="287.7" y="562.0" width="11.6" height="29.8" fill="#16c8ee"/><rect x="316.0" y="503.6" width="11.5" height="88.2" fill="#2490ee"/><rect x="327.5" y="477.0" width="11.6" height="114.8" fill="#16c8ee"/><rect x="357.9" y="517.8" width="11.5" height="74.0" fill="#2490ee"/><rect x="369.4" y="544.5" width="11.6" height="47.3" fill="#16c8ee"/><rect x="401.8" y="520.9" width="11.5" height="70.9" fill="#2490ee"/><rect x="413.3" y="503.3" width="11.6" height="88.5" fill="#16c8ee"/><rect x="440.9" y="564.8" width="11.5" height="27.0" fill="#2490ee"/><rect x="452.4" y="552.9" width="11.6" height="38.9" fill="#16c8ee"/><rect x="482.8" y="579.6" width="11.5" height="12.2" fill="#2490ee"/><rect x="494.3" y="573.5" width="11.6" height="18.3" fill="#16c8ee"/><rect x="524.3" y="575.6" width="11.5" height="16.2" fill="#2490ee"/><rect x="535.8" y="572.2" width="11.6" height="19.6" fill="#16c8ee"/><rect x="563.8" y="559.7" width="11.5" height="32.1" fill="#2490ee"/><rect x="575.3" y="549.9" width="11.6" height="41.9" fill="#16c8ee"/><rect x="606.0" y="530.3" width="11.5" height="61.5" fill="#2490ee"/><rect x="617.5" y="552.6" width="11.6" height="39.2" fill="#16c8ee"/></svg>
<span class="t" style="left:243.30px;top:455.00px;font-size:8.60px;color:#8c9096;font-weight:400;letter-spacing:0.484px;transform:translateX(-100%);margin-left:0.48px;">8K</span>
<span class="t" style="left:243.30px;top:473.00px;font-size:8.60px;color:#8c9096;font-weight:400;letter-spacing:0.484px;transform:translateX(-100%);margin-left:0.48px;">7K</span>
<span class="t" style="left:243.30px;top:492.00px;font-size:8.60px;color:#8c9096;font-weight:400;letter-spacing:0.484px;transform:translateX(-100%);margin-left:0.48px;">6K</span>
<span class="t" style="left:243.30px;top:511.00px;font-size:8.60px;color:#8c9096;font-weight:400;letter-spacing:0.484px;transform:translateX(-100%);margin-left:0.48px;">5K</span>
<span class="t" style="left:243.30px;top:530.00px;font-size:8.60px;color:#8c9096;font-weight:400;letter-spacing:0.484px;transform:translateX(-100%);margin-left:0.48px;">4K</span>
<span class="t" style="left:243.30px;top:549.00px;font-size:8.60px;color:#8c9096;font-weight:400;letter-spacing:0.484px;transform:translateX(-100%);margin-left:0.48px;">3K</span>
<span class="t" style="left:243.30px;top:568.00px;font-size:8.60px;color:#8c9096;font-weight:400;letter-spacing:0.484px;transform:translateX(-100%);margin-left:0.48px;">2K</span>
<span class="t" style="left:243.30px;top:588.00px;font-size:8.60px;color:#8c9096;font-weight:400;letter-spacing:-1.116px;transform:translateX(-100%);margin-left:-1.12px;">1K</span>
<span class="t" style="left:287.60px;top:597.00px;font-size:8.80px;color:#43484f;font-weight:400;letter-spacing:0.188px;transform:translateX(-50%);margin-left:0.09px;">Rajouri</span>
<span class="t" style="left:287.60px;top:606.00px;font-size:8.80px;color:#43484f;font-weight:400;letter-spacing:0.331px;transform:translateX(-50%);margin-left:0.17px;">Garden</span>
<span class="t" style="left:327.50px;top:597.00px;font-size:8.80px;color:#43484f;font-weight:400;letter-spacing:0.233px;transform:translateX(-50%);margin-left:0.12px;">Vasant</span>
<span class="t" style="left:327.50px;top:606.00px;font-size:8.80px;color:#43484f;font-weight:400;letter-spacing:0.464px;transform:translateX(-50%);margin-left:0.23px;">Kunj</span>
<span class="t" style="left:370.00px;top:597.00px;font-size:8.80px;color:#43484f;font-weight:400;letter-spacing:0.384px;transform:translateX(-50%);margin-left:0.19px;">Patel</span>
<span class="t" style="left:370.00px;top:606.00px;font-size:8.80px;color:#43484f;font-weight:400;letter-spacing:0.183px;transform:translateX(-50%);margin-left:0.09px;">Nagar</span>
<span class="t" style="left:413.20px;top:597.00px;font-size:8.80px;color:#43484f;font-weight:400;letter-spacing:0.338px;transform:translateX(-50%);margin-left:0.17px;">Tilak</span>
<span class="t" style="left:413.20px;top:606.00px;font-size:8.80px;color:#43484f;font-weight:400;letter-spacing:0.183px;transform:translateX(-50%);margin-left:0.09px;">Nagar</span>
<span class="t" style="left:452.60px;top:597.00px;font-size:8.80px;color:#43484f;font-weight:400;letter-spacing:0.389px;transform:translateX(-50%);margin-left:0.19px;">Rohini</span>
<span class="t" style="left:495.00px;top:597.00px;font-size:8.80px;color:#43484f;font-weight:400;letter-spacing:0.266px;transform:translateX(-50%);margin-left:0.13px;">Lajpat</span>
<span class="t" style="left:495.00px;top:606.00px;font-size:8.80px;color:#43484f;font-weight:400;letter-spacing:0.183px;transform:translateX(-50%);margin-left:0.09px;">Nagar</span>
<span class="t" style="left:536.80px;top:597.00px;font-size:8.80px;color:#43484f;font-weight:400;letter-spacing:0.118px;transform:translateX(-50%);margin-left:0.06px;">Hauz</span>
<span class="t" style="left:536.80px;top:606.00px;font-size:8.80px;color:#43484f;font-weight:400;letter-spacing:-0.054px;transform:translateX(-50%);margin-left:-0.03px;">Khas</span>
<span class="t" style="left:577.30px;top:597.00px;font-size:8.80px;color:#43484f;font-weight:400;letter-spacing:0.075px;transform:translateX(-50%);margin-left:0.04px;">Saket</span>
<span class="t" style="left:619.50px;top:597.00px;font-size:8.80px;color:#43484f;font-weight:400;letter-spacing:0.474px;transform:translateX(-50%);margin-left:0.24px;">Dwarka</span>
<div class="card" style="left:215.3px;top:631.5px;width:454.2px;height:125.3px"></div>
<span class="t" style="left:224.50px;top:639.00px;font-size:12.30px;color:#2b3a4d;font-weight:400;letter-spacing:0.486px;-webkit-text-stroke:0.35px currentColor;">Source</span>
<div class="a" style="left:508.1px;top:644.4px;width:11.2px;height:11.2px;background:#2490ee;border-radius:1.5px"></div>
<span class="t" style="left:524.70px;top:647.00px;font-size:8.60px;color:#4a4f55;font-weight:400;letter-spacing:0.205px;">Current Month</span>
<div class="a" style="left:597.7px;top:644.4px;width:11.2px;height:11.2px;background:#16c8ee;border-radius:1.5px"></div>
<span class="t" style="left:614.50px;top:647.00px;font-size:8.60px;color:#4a4f55;font-weight:400;letter-spacing:-0.002px;">Last Month</span>
<svg style="left:0;top:0" width="696" height="764" viewBox="0 0 696 764"><line x1="245.7" y1="663.5" x2="245.7" y2="748.5" stroke="#e4e4e4" stroke-width="0.8" stroke-dasharray="6 2.5"/><line x1="266.3" y1="663.5" x2="266.3" y2="748.5" stroke="#e4e4e4" stroke-width="0.8" stroke-dasharray="6 2.5"/><line x1="286.9" y1="663.5" x2="286.9" y2="748.5" stroke="#e4e4e4" stroke-width="0.8" stroke-dasharray="6 2.5"/><line x1="307.5" y1="663.5" x2="307.5" y2="748.5" stroke="#e4e4e4" stroke-width="0.8" stroke-dasharray="6 2.5"/><line x1="328.1" y1="663.5" x2="328.1" y2="748.5" stroke="#e4e4e4" stroke-width="0.8" stroke-dasharray="6 2.5"/><line x1="348.7" y1="663.5" x2="348.7" y2="748.5" stroke="#e4e4e4" stroke-width="0.8" stroke-dasharray="6 2.5"/><line x1="369.3" y1="663.5" x2="369.3" y2="748.5" stroke="#e4e4e4" stroke-width="0.8" stroke-dasharray="6 2.5"/><line x1="389.9" y1="663.5" x2="389.9" y2="748.5" stroke="#e4e4e4" stroke-width="0.8" stroke-dasharray="6 2.5"/><line x1="410.5" y1="663.5" x2="410.5" y2="748.5" stroke="#e4e4e4" stroke-width="0.8" stroke-dasharray="6 2.5"/><line x1="431.1" y1="663.5" x2="431.1" y2="748.5" stroke="#e4e4e4" stroke-width="0.8" stroke-dasharray="6 2.5"/><line x1="451.7" y1="663.5" x2="451.7" y2="748.5" stroke="#e4e4e4" stroke-width="0.8" stroke-dasharray="6 2.5"/><line x1="472.3" y1="663.5" x2="472.3" y2="748.5" stroke="#e4e4e4" stroke-width="0.8" stroke-dasharray="6 2.5"/><line x1="492.9" y1="663.5" x2="492.9" y2="748.5" stroke="#e4e4e4" stroke-width="0.8" stroke-dasharray="6 2.5"/><line x1="513.5" y1="663.5" x2="513.5" y2="748.5" stroke="#e4e4e4" stroke-width="0.8" stroke-dasharray="6 2.5"/><line x1="534.1" y1="663.5" x2="534.1" y2="748.5" stroke="#e4e4e4" stroke-width="0.8" stroke-dasharray="6 2.5"/><line x1="554.7" y1="663.5" x2="554.7" y2="748.5" stroke="#e4e4e4" stroke-width="0.8" stroke-dasharray="6 2.5"/><line x1="575.3" y1="663.5" x2="575.3" y2="748.5" stroke="#e4e4e4" stroke-width="0.8" stroke-dasharray="6 2.5"/><line x1="595.9" y1="663.5" x2="595.9" y2="748.5" stroke="#e4e4e4" stroke-width="0.8" stroke-dasharray="6 2.5"/><line x1="616.5" y1="663.5" x2="616.5" y2="748.5" stroke="#e4e4e4" stroke-width="0.8" stroke-dasharray="6 2.5"/><line x1="637.1" y1="663.5" x2="637.1" y2="748.5" stroke="#e4e4e4" stroke-width="0.8" stroke-dasharray="6 2.5"/><line x1="657.7" y1="663.5" x2="657.7" y2="748.5" stroke="#e4e4e4" stroke-width="0.8" stroke-dasharray="6 2.5"/><line x1="245.7" y1="663.5" x2="657.7" y2="663.5" stroke="#ebebeb" stroke-width="1"/><line x1="245.7" y1="680.5" x2="657.7" y2="680.5" stroke="#ebebeb" stroke-width="1"/><line x1="245.7" y1="697.5" x2="657.7" y2="697.5" stroke="#ebebeb" stroke-width="1"/><line x1="245.7" y1="714.5" x2="657.7" y2="714.5" stroke="#ebebeb" stroke-width="1"/><line x1="245.7" y1="731.5" x2="657.7" y2="731.5" stroke="#ebebeb" stroke-width="1"/><line x1="245.7" y1="748.5" x2="657.7" y2="748.5" stroke="#ebebeb" stroke-width="1"/><path d="M251.9 714.1 C254.5 710.5 259.8 695.2 265.1 695.9 C270.3 696.6 273.0 711.7 278.3 717.5 C283.5 723.3 286.2 729.8 291.4 724.9 C296.7 720.0 299.3 697.2 304.6 693.2 C309.9 689.2 312.5 703.1 317.8 704.7 C323.0 706.3 325.7 705.1 331.0 701.3 C336.2 697.5 338.9 682.2 344.1 685.8 C349.4 689.4 352.0 713.0 357.3 719.5 C362.6 726.0 365.2 724.5 370.5 718.2 C375.8 711.9 378.4 689.3 383.7 687.8 C388.9 686.3 391.6 707.2 396.8 710.8 C402.1 714.4 404.7 709.2 410.0 706.0 C415.3 702.8 417.9 693.6 423.2 694.6 C428.5 695.6 431.1 709.0 436.4 710.8 C441.6 712.6 444.3 704.9 449.5 703.6 C454.8 702.3 457.4 703.5 462.7 704.4 C468.0 705.3 470.6 712.0 475.9 707.9 C481.2 703.8 483.8 681.6 489.1 684.0 C494.3 686.4 497.0 711.9 502.2 720.0 C507.5 728.1 510.1 729.6 515.4 724.5 C520.7 719.4 523.3 702.7 528.6 694.4 C533.9 686.1 536.5 681.7 541.8 683.1 C547.0 684.5 549.7 696.2 554.9 701.5 C560.2 706.8 562.9 711.4 568.1 709.4 C573.4 707.4 576.0 690.3 581.3 691.5 C586.6 692.7 589.2 712.8 594.5 715.5 C599.7 718.2 602.4 704.6 607.6 705.0 C612.9 705.4 615.6 719.0 620.8 717.3 C626.1 715.6 631.4 700.5 634.0 696.3" fill="none" stroke="#16c8ee" stroke-width="1.1"/><circle cx="251.9" cy="714.1" r="1.1" fill="#16c8ee"/><circle cx="265.1" cy="695.9" r="1.1" fill="#16c8ee"/><circle cx="278.3" cy="717.5" r="1.1" fill="#16c8ee"/><circle cx="291.4" cy="724.9" r="1.1" fill="#16c8ee"/><circle cx="304.6" cy="693.2" r="1.1" fill="#16c8ee"/><circle cx="317.8" cy="704.7" r="1.1" fill="#16c8ee"/><circle cx="331.0" cy="701.3" r="1.1" fill="#16c8ee"/><circle cx="344.1" cy="685.8" r="1.1" fill="#16c8ee"/><circle cx="357.3" cy="719.5" r="1.1" fill="#16c8ee"/><circle cx="370.5" cy="718.2" r="1.1" fill="#16c8ee"/><circle cx="383.7" cy="687.8" r="1.1" fill="#16c8ee"/><circle cx="396.8" cy="710.8" r="1.1" fill="#16c8ee"/><circle cx="410.0" cy="706.0" r="1.1" fill="#16c8ee"/><circle cx="423.2" cy="694.6" r="1.1" fill="#16c8ee"/><circle cx="436.4" cy="710.8" r="1.1" fill="#16c8ee"/><circle cx="449.5" cy="703.6" r="1.1" fill="#16c8ee"/><circle cx="462.7" cy="704.4" r="1.1" fill="#16c8ee"/><circle cx="475.9" cy="707.9" r="1.1" fill="#16c8ee"/><circle cx="489.1" cy="684.0" r="1.1" fill="#16c8ee"/><circle cx="502.2" cy="720.0" r="1.1" fill="#16c8ee"/><circle cx="515.4" cy="724.5" r="1.1" fill="#16c8ee"/><circle cx="528.6" cy="694.4" r="1.1" fill="#16c8ee"/><circle cx="541.8" cy="683.1" r="1.1" fill="#16c8ee"/><circle cx="554.9" cy="701.5" r="1.1" fill="#16c8ee"/><circle cx="568.1" cy="709.4" r="1.1" fill="#16c8ee"/><circle cx="581.3" cy="691.5" r="1.1" fill="#16c8ee"/><circle cx="594.5" cy="715.5" r="1.1" fill="#16c8ee"/><circle cx="607.6" cy="705.0" r="1.1" fill="#16c8ee"/><circle cx="620.8" cy="717.3" r="1.1" fill="#16c8ee"/><circle cx="634.0" cy="696.3" r="1.1" fill="#16c8ee"/><path d="M251.9 727.4 C254.5 726.6 259.8 728.1 265.1 723.2 C270.3 718.3 273.0 707.4 278.3 703.1 C283.5 698.8 286.2 702.2 291.4 701.5 C296.7 700.8 299.3 696.6 304.6 699.5 C309.9 702.4 312.5 714.7 317.8 715.8 C323.0 716.9 325.7 708.0 331.0 704.9 C336.2 701.8 338.9 697.3 344.1 700.4 C349.4 703.5 352.0 722.4 357.3 720.4 C362.6 718.4 365.2 697.0 370.5 690.4 C375.8 683.8 378.4 688.3 383.7 687.6 C388.9 686.9 391.6 680.2 396.8 687.0 C402.1 693.8 404.7 716.5 410.0 721.8 C415.3 727.1 417.9 715.7 423.2 713.5 C428.5 711.3 431.1 714.0 436.4 710.9 C441.6 707.8 444.3 698.6 449.5 698.1 C454.8 697.6 457.4 703.9 462.7 708.3 C468.0 712.7 470.6 722.8 475.9 720.0 C481.2 717.2 483.8 694.6 489.1 694.1 C494.3 693.6 497.0 719.7 502.2 717.7 C507.5 715.7 510.1 684.1 515.4 684.0 C520.7 683.9 523.3 710.3 528.6 717.4 C533.9 724.5 536.5 721.3 541.8 719.5 C547.0 717.7 549.7 710.4 554.9 708.5 C560.2 706.6 562.9 713.4 568.1 709.9 C573.4 706.4 576.0 690.9 581.3 691.2 C586.6 691.5 589.2 711.9 594.5 711.6 C599.7 711.3 602.4 686.9 607.6 689.8 C612.9 692.7 615.6 726.5 620.8 726.3 C626.1 726.1 631.4 696.1 634.0 688.6" fill="none" stroke="#1f86ea" stroke-width="1.1"/><circle cx="251.9" cy="727.4" r="1.1" fill="#1f86ea"/><circle cx="265.1" cy="723.2" r="1.1" fill="#1f86ea"/><circle cx="278.3" cy="703.1" r="1.1" fill="#1f86ea"/><circle cx="291.4" cy="701.5" r="1.1" fill="#1f86ea"/><circle cx="304.6" cy="699.5" r="1.1" fill="#1f86ea"/><circle cx="317.8" cy="715.8" r="1.1" fill="#1f86ea"/><circle cx="331.0" cy="704.9" r="1.1" fill="#1f86ea"/><circle cx="344.1" cy="700.4" r="1.1" fill="#1f86ea"/><circle cx="357.3" cy="720.4" r="1.1" fill="#1f86ea"/><circle cx="370.5" cy="690.4" r="1.1" fill="#1f86ea"/><circle cx="383.7" cy="687.6" r="1.1" fill="#1f86ea"/><circle cx="396.8" cy="687.0" r="1.1" fill="#1f86ea"/><circle cx="410.0" cy="721.8" r="1.1" fill="#1f86ea"/><circle cx="423.2" cy="713.5" r="1.1" fill="#1f86ea"/><circle cx="436.4" cy="710.9" r="1.1" fill="#1f86ea"/><circle cx="449.5" cy="698.1" r="1.1" fill="#1f86ea"/><circle cx="462.7" cy="708.3" r="1.1" fill="#1f86ea"/><circle cx="475.9" cy="720.0" r="1.1" fill="#1f86ea"/><circle cx="489.1" cy="694.1" r="1.1" fill="#1f86ea"/><circle cx="502.2" cy="717.7" r="1.1" fill="#1f86ea"/><circle cx="515.4" cy="684.0" r="1.1" fill="#1f86ea"/><circle cx="528.6" cy="717.4" r="1.1" fill="#1f86ea"/><circle cx="541.8" cy="719.5" r="1.1" fill="#1f86ea"/><circle cx="554.9" cy="708.5" r="1.1" fill="#1f86ea"/><circle cx="568.1" cy="709.9" r="1.1" fill="#1f86ea"/><circle cx="581.3" cy="691.2" r="1.1" fill="#1f86ea"/><circle cx="594.5" cy="711.6" r="1.1" fill="#1f86ea"/><circle cx="607.6" cy="689.8" r="1.1" fill="#1f86ea"/><circle cx="620.8" cy="726.3" r="1.1" fill="#1f86ea"/><circle cx="634.0" cy="688.6" r="1.1" fill="#1f86ea"/></svg>
<span class="t" style="left:238.40px;top:660.00px;font-size:8.00px;color:#a3a7ad;font-weight:400;letter-spacing:0.403px;transform:translateX(-100%);margin-left:0.40px;">6K</span>
<span class="t" style="left:238.40px;top:677.00px;font-size:8.00px;color:#a3a7ad;font-weight:400;letter-spacing:0.403px;transform:translateX(-100%);margin-left:0.40px;">5K</span>
<span class="t" style="left:238.40px;top:694.00px;font-size:8.00px;color:#a3a7ad;font-weight:400;letter-spacing:0.403px;transform:translateX(-100%);margin-left:0.40px;">4K</span>
<span class="t" style="left:238.40px;top:711.00px;font-size:8.00px;color:#a3a7ad;font-weight:400;letter-spacing:0.403px;transform:translateX(-100%);margin-left:0.40px;">3K</span>
<span class="t" style="left:238.40px;top:728.00px;font-size:8.00px;color:#a3a7ad;font-weight:400;letter-spacing:0.403px;transform:translateX(-100%);margin-left:0.40px;">2K</span>
<span class="t" style="left:238.40px;top:745.00px;font-size:8.00px;color:#a3a7ad;font-weight:400;letter-spacing:-0.997px;transform:translateX(-100%);margin-left:-1.00px;">1K</span>
</body></html>
